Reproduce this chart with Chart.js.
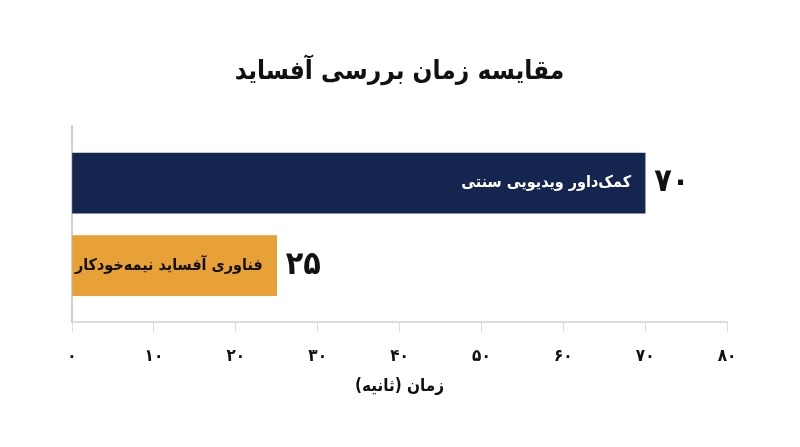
<!DOCTYPE html>
<html lang="fa">
<head>
<meta charset="utf-8">
<script src="https://cdn.jsdelivr.net/npm/chart.js@4.4.1/dist/chart.umd.min.js"></script>
<style>
  html, body { margin: 0; padding: 0; background: #fff; }
  #wrap { width: 800px; height: 447px; }
</style>
</head>
<body>
<div id="wrap"><canvas id="grafico"></canvas></div>
<script>
const categorias = ['کمک‌داور ویدیویی سنتی', 'فناوری آفساید نیمه‌خودکار'];
const tempos = [70, 25];
const rotulosValor = ['۷۰', '۲۵'];
const rotulosEixo = ['۰', '۱۰', '۲۰', '۳۰', '۴۰', '۵۰', '۶۰', '۷۰', '۸۰'];
const cores = ['#14254f', '#e8a136'];
const coresTexto = ['#ffffff', '#111111'];

const fonte = "'DejaVu Sans Condensed', 'DejaVu Sans', sans-serif";

const rotulosBarras = {
  id: 'rotulosBarras',
  afterDatasetsDraw(chart) {
    const ctx = chart.ctx;
    const meta = chart.getDatasetMeta(0);
    meta.data.forEach((bar, i) => {
      ctx.save();
      ctx.textBaseline = 'middle';
      ctx.direction = 'rtl';
      ctx.font = 'bold 16px ' + fonte;
      ctx.fillStyle = coresTexto[i];
      ctx.textAlign = 'right';
      ctx.fillText(categorias[i], bar.x - 14, bar.y);
      ctx.font = 'bold 32px ' + fonte;
      ctx.fillStyle = '#111';
      ctx.direction = 'ltr';
      ctx.textAlign = 'left';
      ctx.fillText(rotulosValor[i], bar.x + 9, bar.y);
      ctx.restore();
    });
  }
};

const ctx = document.getElementById('grafico').getContext('2d');
new Chart(ctx, {
  type: 'bar',
  data: {
    datasets: [{
      data: tempos.map((v, i) => ({ x: v, y: i })),
      backgroundColor: cores,
      barThickness: 60
    }]
  },
  options: {
    indexAxis: 'y',
    responsive: true,
    maintainAspectRatio: false,
    animation: false,
    layout: { padding: { left: 72, right: 73, top: 0, bottom: 0 } },
    plugins: {
      legend: { display: false },
      tooltip: { enabled: false },
      title: {
        display: true,
        text: 'مقایسه زمان بررسی آفساید',
        color: '#111',
        font: { family: fonte, size: 26, weight: 'bold' },
        padding: { top: 57, bottom: 38 }
      }
    },
    scales: {
      x: {
        min: 0,
        max: 80,
        ticks: {
          stepSize: 10,
          color: '#111',
          padding: 14,
          font: { family: fonte, size: 17, weight: 'bold' },
          callback: (v) => rotulosEixo[v / 10]
        },
        grid: { drawOnChartArea: false, tickLength: 10, color: '#dcdcdc' },
        border: { color: '#dcdcdc', width: 2 },
        title: {
          display: true,
          text: 'زمان (ثانیه)',
          color: '#111',
          font: { family: fonte, size: 17, weight: 'bold' },
          padding: { top: 8, bottom: 50 }
        },
        afterFit(scale) { scale.height = 125; }
      },
      y: {
        type: 'linear',
        reverse: true,
        offset: false,
        min: -0.689,
        max: 1.682,
        ticks: { display: false },
        grid: { display: false },
        border: { color: '#d0d0d0', width: 2 },
        afterFit(scale) { scale.width = 0; }
      }
    }
  },
  plugins: [rotulosBarras]
});
</script>
</body>
</html>
